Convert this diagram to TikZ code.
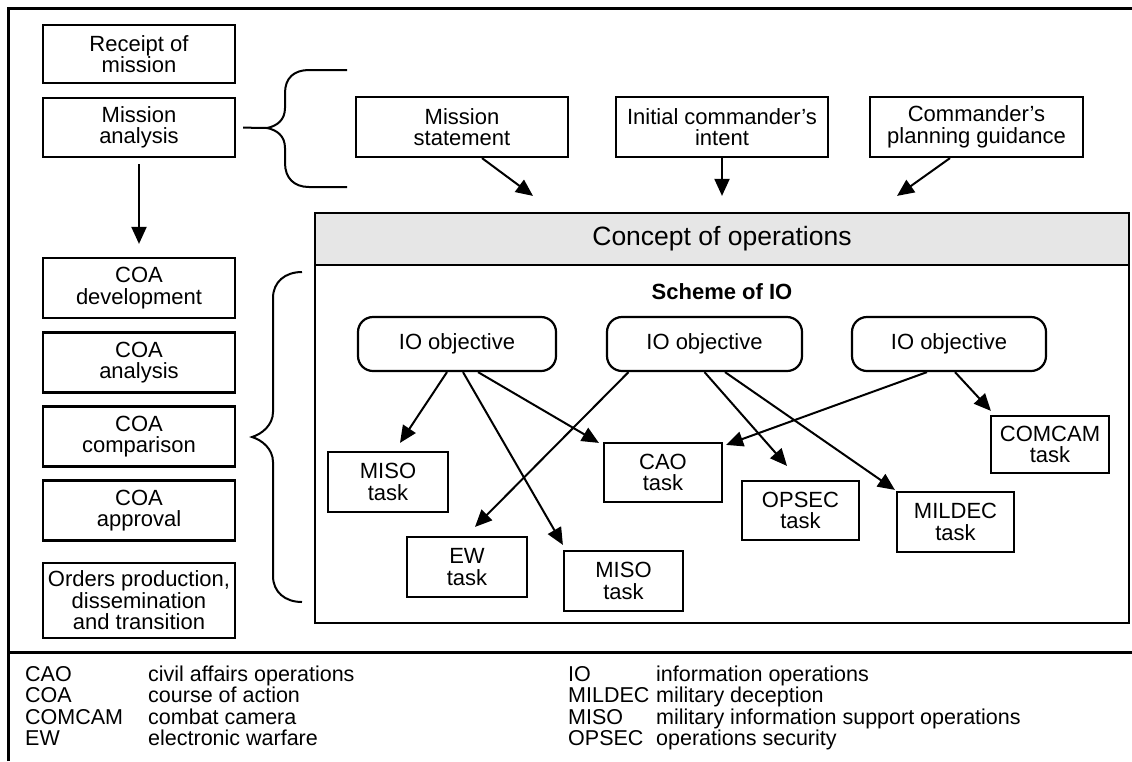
\documentclass[tikz,border=0pt]{standalone}
\usepackage{fontspec}
\setmainfont{Liberation Sans}
\usetikzlibrary{arrows.meta}

\tikzset{
  txt/.style={font=\fontsize{22}{21.5}\selectfont, inner sep=0pt, align=center},
  box/.style={txt, draw, line width=2.2pt},
  objbox/.style={box, rounded corners=15pt},
  arr/.style={line width=2pt, -{Triangle[length=17pt,width=15pt]}},
  frameline/.style={line width=3pt},
  bracepath/.style={line width=2pt},
  legabbr/.style={font=\fontsize{21.5}{21.5}\selectfont, inner sep=0pt, anchor=base west},
}

\begin{document}
\begin{tikzpicture}[x=1pt,y=-1pt]
\useasboundingbox (0,0) rectangle (1132,761);

% outer frame and legend separator
\draw[frameline] (8,761) -- (8,8) -- (1132,8);
\draw[frameline] (8,652) -- (1132,652);

% planning steps on the left
\node[box, minimum width=192, minimum height=58] (receipt) at (139,54) {Receipt of\\mission};
\node[box, minimum width=192, minimum height=59] (mana) at (139,127.5) {Mission\\analysis};
\node[box, minimum width=192, minimum height=60] (coadev) at (139,288) {COA\\development};
\node[box, minimum width=192, minimum height=60] (coaana) at (139,362.5) {COA\\analysis};
\node[box, minimum width=192, minimum height=60] (coacmp) at (139,436.5) {COA\\comparison};
\node[box, minimum width=192, minimum height=60] (coaapp) at (139,510.5) {COA\\approval};
\node[box, minimum width=192, minimum height=75] (orders) at (139,600.5) {Orders production,\\dissemination\\and transition};

\draw[arr, shorten <=6pt] (mana.south) -- ([yshift=13pt]coadev.north);

% products of mission analysis
\node[box, minimum width=212, minimum height=60] (mstate) at (462,127) {Mission\\statement};
\node[box, minimum width=212, minimum height=60] (intent) at (722,127) {Initial commander’s\\intent};
\node[box, minimum width=213, minimum height=60] (guide) at (976.5,127) {Commander’s\\planning guidance};

% brace from mission analysis
\coordinate (toptip) at (267,128);
\draw[bracepath, shorten <=7pt] (mana.east) -- (toptip);
\draw[bracepath] (347,70) -- (309,70) .. controls (294,70) and (285,78) .. (285,93)
  -- (285,108) .. controls (285,120) and (277,126) .. (toptip)
  .. controls (277,130) and (285,136) .. (285,148) -- (285,163)
  .. controls (285,178) and (294,187) .. (309,187) -- (347,187);

% concept of operations
\node[draw, line width=2.2pt, minimum width=814, minimum height=410, inner sep=0pt] (scheme) at (722,418) {};
\node[draw, line width=2.2pt, fill={rgb,255:red,230;green,230;blue,230}, minimum width=814, minimum height=52, inner sep=0pt,
      font=\fontsize{26.5}{28}\selectfont] (concept) at (722,239) {Concept of operations};
\node[txt, font=\fontsize{22}{22}\selectfont\bfseries] (schemetitle) at (722,292) {Scheme of IO};

\draw[arr] ([xshift=20pt]mstate.south) -- ([xshift=-189pt,yshift=16pt]concept.north);
\draw[arr] (intent.south) -- ([yshift=16pt]concept.north);
\draw[arr] ([xshift=-26.5pt]guide.south) -- ([xshift=175pt,yshift=16pt]concept.north);

% brace covering COA steps
\draw[bracepath] (302,272) .. controls (285,272) and (273,282) .. (273,298) -- (273,412)
  .. controls (273,425) and (262,434) .. (252,437)
  .. controls (262,440) and (273,449) .. (273,462) -- (273,576)
  .. controls (273,592) and (285,602) .. (302,602);

% IO objectives
\node[objbox, minimum width=198, minimum height=54] (io1) at (457,344) {IO objective};
\node[objbox, minimum width=195, minimum height=54] (io2) at (704.5,344) {IO objective};
\node[objbox, minimum width=194, minimum height=54] (io3) at (949,344) {IO objective};

% tasks
\node[box, minimum width=120, minimum height=60] (miso1) at (388,482) {MISO\\task};
\node[box, minimum width=120, minimum height=60] (ew) at (467,567) {EW\\task};
\node[box, minimum width=119, minimum height=60] (miso2) at (623.5,581) {MISO\\task};
\node[box, minimum width=118, minimum height=59] (cao) at (663,472.5) {CAO\\task};
\node[box, minimum width=117, minimum height=59] (opsec) at (800.5,510.5) {OPSEC\\task};
\node[box, minimum width=117, minimum height=60] (mildec) at (955.5,522) {MILDEC\\task};
\node[box, minimum width=118, minimum height=57] (comcam) at (1050,444.5) {COMCAM\\task};

% objective to task links
\draw[arr] ([xshift=-10pt]io1.south) -- ([xshift=12pt,yshift=8pt]miso1.north);
\draw[arr] ([xshift=6pt]io1.south) -- ([yshift=5pt]miso2.north west);
\draw[arr] ([xshift=21pt]io1.south) -- ([xshift=-4pt,yshift=-1pt]cao.north west);
\draw[arr] ([xshift=-76pt]io2.south) -- ([xshift=8pt,yshift=9pt]ew.north);
\draw[arr] (io2.south) -- ([xshift=-13.5pt,yshift=14pt]opsec.north);
\draw[arr] ([xshift=20.5pt]io2.south) -- ([xshift=-1pt,yshift=1pt]mildec.north west);
\draw[arr] ([xshift=-22pt]io3.south) -- ([xshift=3pt,yshift=-3pt]cao.north east);
\draw[arr] ([xshift=6pt]io3.south) -- ([xshift=1pt,yshift=4pt]comcam.north west);

% legend
\node[legabbr] (lcao) at (25,681) {CAO};
\node[legabbr] (lcaot) at (148,681) {civil affairs operations};
\node[legabbr] (lcoa) at (25,702.5) {COA};
\node[legabbr] (lcoat) at (148,702.5) {course of action};
\node[legabbr] (lcom) at (25,724) {COMCAM};
\node[legabbr] (lcomt) at (148,724) {combat camera};
\node[legabbr] (lew) at (25,745.5) {EW};
\node[legabbr] (lewt) at (148,745.5) {electronic warfare};
\node[legabbr] (lio) at (568,681) {IO};
\node[legabbr] (liot) at (656,681) {information operations};
\node[legabbr] (lmil) at (568,702.5) {MILDEC};
\node[legabbr] (lmilt) at (656,702.5) {military deception};
\node[legabbr] (lmiso) at (568,724) {MISO};
\node[legabbr] (lmisot) at (656,724) {military information support operations};
\node[legabbr] (lops) at (568,745.5) {OPSEC};
\node[legabbr] (lopst) at (656,745.5) {operations security};
\end{tikzpicture}
\end{document}
